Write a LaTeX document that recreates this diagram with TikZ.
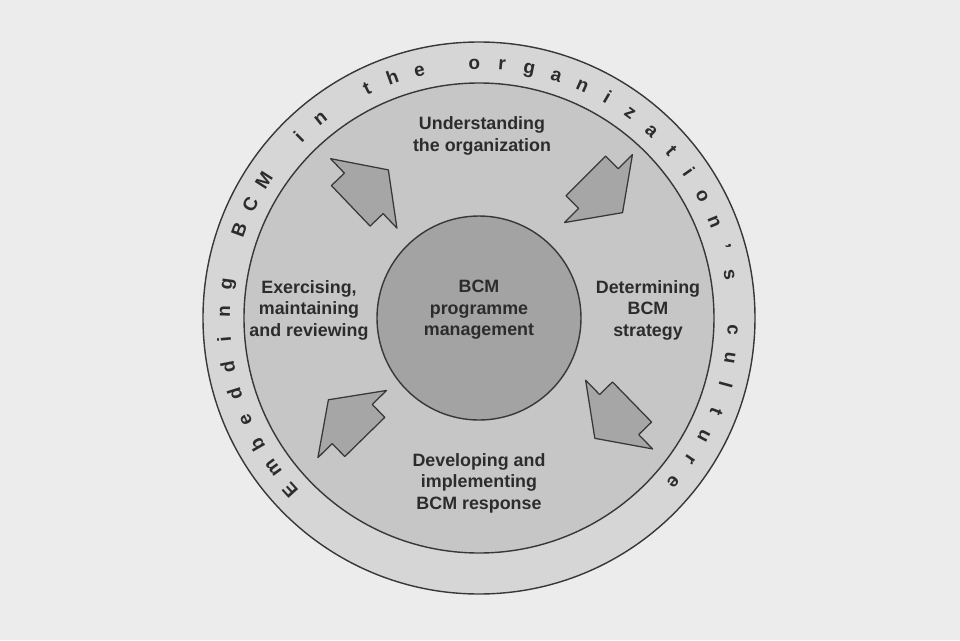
\documentclass[tikz,border=0pt]{standalone}
\usepackage{fontspec}
\setsansfont{Liberation Sans}
\definecolor{bggray}{HTML}{ECECEC}
\definecolor{ringgray}{HTML}{D6D6D6}
\definecolor{discgray}{HTML}{C6C6C6}
\definecolor{coregray}{HTML}{A3A3A3}
\definecolor{arrowgray}{HTML}{A6A6A6}
\definecolor{linegray}{HTML}{383838}
\definecolor{textgray}{HTML}{2C2C2C}
\begin{document}
\begin{tikzpicture}[x=0.025cm, y=0.025cm, font=\sffamily\bfseries\fontsize{12.7}{15.3}\selectfont,
	ring/.style={draw=linegray, line width=1pt},
	block/.style={draw=linegray, line width=0.9pt, fill=arrowgray, line join=round},
	stage/.style={align=center, inner sep=0pt, text=textgray},
	letter/.style={anchor=base, inner sep=0pt, text=textgray, font=\sffamily\bfseries\fontsize{13.5}{15}\selectfont}]
	%background
	\fill[bggray] (-479,-322) rectangle (481,318);
	%circles
	\draw[ring, fill=ringgray] (0,0) circle (276);
	\draw[ring, fill=discgray] (0,0) circle (235);
	\draw[ring, fill=coregray] (0,0) circle (102);
	%ring text
	\foreach \ch [count=\i from 0] in {E,m,b,e,d,d,i,n,g,-,B,C,M,-,i,n,-,t,h,e,-,o,r,g,a,n,i,z,a,t,i,o,n,',s,-,c,u,l,t,u,r,e}{
		\pgfmathsetmacro\ang{222.3-6.25*\i}
		\if\ch-\else
		\node[letter, rotate=\ang-90] (l\i) at (\ang:249) {\ch};
		\fi
	}
	%arrows
	\foreach \pa/\pr/\rot in {45/176/-45, 130.4/170/43.7, 217.5/166/134.4, 323.1/169/224.3}
	\draw[block, shift={(\pa:\pr)}, rotate=\rot]
	(27,0) -- (-7,48) -- (-7,28) -- (-25,28) -- (-25,-28) -- (-7,-28) -- (-7,-48) -- cycle;
	%labels
	\node[stage] (understand) at (3,182) {Understanding\\the organization};
	\node[stage] (strategy) at (169,8) {Determining\\BCM\\strategy};
	\node[stage] (develop) at (0,-165) {Developing and\\implementing\\BCM response};
	\node[stage] (exercise) at (-170,8) {Exercising,\\maintaining\\and reviewing};
	\node[stage] (core) at (0,8) {BCM\\programme\\management};
\end{tikzpicture}
\end{document}
